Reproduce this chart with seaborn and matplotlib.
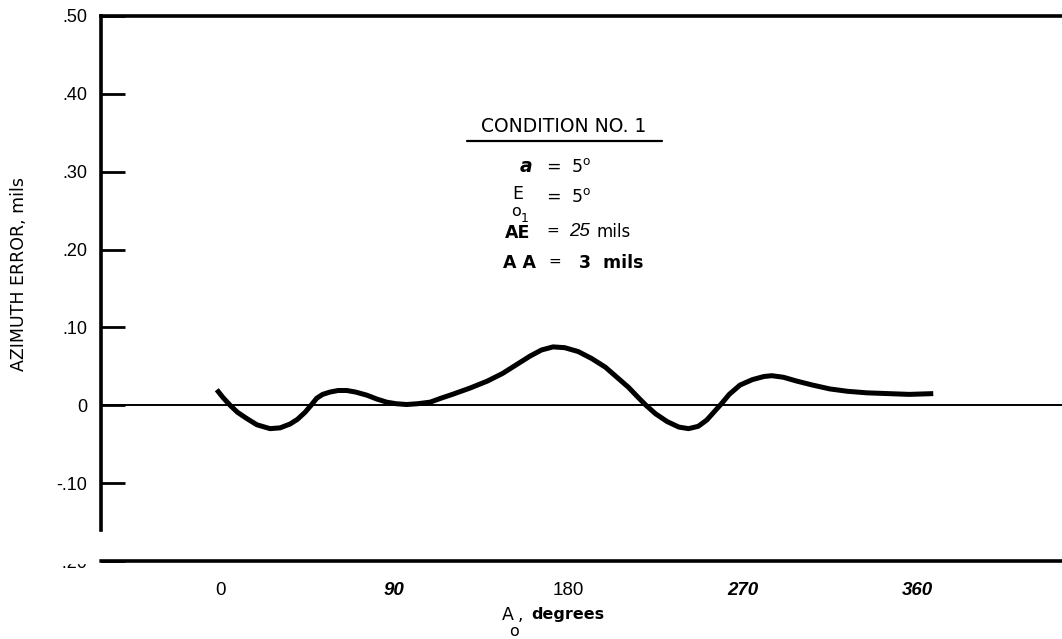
import matplotlib
matplotlib.use('Agg')
import matplotlib.pyplot as plt
import matplotlib.patches as mpatches
import seaborn as sns

# Values
azimuth_deg = [-1.7, 1.5, 5.2, 9.0, 13.8, 19.0, 25.8, 31.0, 36.2, 40.0, 43.9, 47.0,
               49.9, 53.0, 56.8, 61.0, 65.4, 70.0, 75.8, 81.0, 86.1, 91.0, 96.4, 102.0,
               108.5, 114.0, 120.0, 129.0, 138.0, 146.0, 153.0, 160.0, 166.0, 172.0,
               178.0, 185.0, 192.0, 199.0, 205.0, 211.0, 216.0, 220.0, 225.0, 231.0,
               237.0, 242.0, 247.0, 251.4, 255.0, 259.0, 263.0, 268.6, 275.0, 281.0,
               285.0, 291.0, 298.0, 306.0, 315.0, 324.0, 334.0, 345.0, 356.0, 368.4]
azimuth_error = [0.020, 0.010, 0.000, -0.009, -0.017, -0.025, -0.030, -0.029, -0.024,
                 -0.018, -0.009, 0.000, 0.009, 0.014, 0.017, 0.019, 0.019, 0.017, 0.013,
                 0.008, 0.004, 0.002, 0.001, 0.002, 0.004, 0.009, 0.014, 0.022, 0.031,
                 0.041, 0.052, 0.063, 0.071, 0.075, 0.074, 0.069, 0.060, 0.049, 0.036,
                 0.023, 0.010, 0.000, -0.011, -0.021, -0.028, -0.030, -0.027, -0.019,
                 -0.009, 0.002, 0.014, 0.026, 0.033, 0.037, 0.038, 0.036, 0.031, 0.026,
                 0.021, 0.018, 0.016, 0.015, 0.014, 0.015]

x_ticks = [0, 90, 180, 270, 360]
x_tick_labels = ['0', '90', '180', '270', '360']
y_ticks = [0.5, 0.4, 0.3, 0.2, 0.1, 0.0, -0.1, -0.2]
y_tick_labels = ['.50', '.40', '.30', '.20', '.10', '0', '-.10', '-.20']

sns.set_style('white')
plt.rcParams['font.family'] = ['Liberation Sans', 'DejaVu Sans']
plt.rcParams['text.color'] = 'black'
plt.rcParams['mathtext.fontset'] = 'custom'
plt.rcParams['mathtext.rm'] = 'DejaVu Sans'

W, H = 1062, 639
wide = 'DejaVu Sans'
fig = plt.figure(figsize=(W / 100, H / 100), dpi=100)
ax = fig.add_axes([101 / W, 1 - 561 / H, (W - 101) / W, (561 - 16) / H])

# zero reference line
ax.axhline(0, color='black', lw=1.4, zorder=1)

sns.lineplot(x=azimuth_deg, y=azimuth_error, ax=ax, color='black', lw=3.6,
             sort=False, zorder=3, solid_joinstyle='round', solid_capstyle='butt')

ax.set_xlim(-61.5, 434.9)
ax.set_ylim(-0.2, 0.5)

for side in ['top', 'left', 'bottom']:
    ax.spines[side].set_color('black')
    ax.spines[side].set_linewidth(2.6)
ax.spines['right'].set_visible(False)
ax.spines['left'].set_bounds(-0.16, 0.5)

ax.set_yticks(y_ticks)
ax.set_yticklabels(y_tick_labels)
ax.set_xticks(x_ticks)
ax.set_xticklabels(x_tick_labels)
ax.tick_params(axis='y', direction='in', length=17, width=2, pad=10,
               labelsize=13, colors='black', left=True)
ax.tick_params(axis='x', length=0, pad=15, labelsize=13.5, colors='black')
for lab in ax.get_xticklabels():
    if lab.get_text() in ('90', '270', '360'):
        lab.set_fontstyle('italic')
        lab.set_fontweight('bold')

ax.set_xlabel('')
ax.set_ylabel('')

# axis titles
fig.text(19 / W, 1 - 274 / H, 'AZIMUTH ERROR, mils', rotation=90, ha='center',
         va='center', fontsize=12.5, family=wide)
fig.text(502 / W, 1 - 615 / H, 'A', ha='left', va='center', fontsize=12.5, family=wide)
fig.text(509 / W, 1 - 632 / H, 'o', ha='left', va='center', fontsize=11.5, family=wide)
fig.text(518 / W, 1 - 615 / H, ',', ha='left', va='center', fontsize=12.5, family=wide)
fig.text(531 / W, 1 - 614 / H, 'degrees', ha='left', va='center', fontsize=11.5,
         fontweight='bold', family=wide)

# scan cut on the lowest tick label
fig.patches.append(mpatches.Rectangle((50 / W, 1 - 563 / H), 48 / W, 18 / H,
                                      transform=fig.transFigure, color='white',
                                      zorder=10))

# condition block
fig.text(564 / W, 1 - 127 / H, 'CONDITION NO. 1', ha='center', va='center',
         fontsize=13.5, family=wide)
fig.add_artist(plt.Line2D([467 / W, 662 / W], [1 - 141 / H, 1 - 141 / H],
                          color='black', lw=1.6))
fig.text(520 / W, 1 - 167 / H, 'a', ha='left', va='center', fontsize=13.5,
         fontweight='bold', fontstyle='italic', family=wide)
fig.text(546 / W, 1 - 167 / H, r'=  5$^{\mathrm{o}}$', ha='left', va='center',
         fontsize=12.5, family=wide)
fig.text(512 / W, 1 - 194 / H, 'E', ha='left', va='center', fontsize=12.5, family=wide)
fig.text(511 / W, 1 - 212 / H, 'o', ha='left', va='center', fontsize=11.5, family=wide)
fig.text(521 / W, 1 - 218 / H, '1', ha='left', va='center', fontsize=9, family=wide)
fig.text(546 / W, 1 - 197 / H, r'=  5$^{\mathrm{o}}$', ha='left', va='center',
         fontsize=12.5, family=wide)
fig.text(505 / W, 1 - 233 / H, 'AE', ha='left', va='center', fontsize=12.5,
         fontweight='bold', family=wide)
fig.text(546 / W, 1 - 230 / H, '=', ha='left', va='center', fontsize=11, family=wide)
fig.text(569 / W, 1 - 232 / H, '25', ha='left', va='center', fontsize=13.5,
         fontstyle='italic')
fig.text(596 / W, 1 - 232 / H, 'mils', ha='left', va='center', fontsize=12, family=wide)
fig.text(503 / W, 1 - 263 / H, 'A A', ha='left', va='center', fontsize=12.5,
         fontweight='bold', family=wide)
fig.text(548 / W, 1 - 261 / H, '=', ha='left', va='center', fontsize=11, family=wide)
fig.text(579 / W, 1 - 263 / H, '3  mils', ha='left', va='center', fontsize=12.5,
         fontweight='bold', family=wide)

fig.savefig('out.png', dpi=100, facecolor='white')
